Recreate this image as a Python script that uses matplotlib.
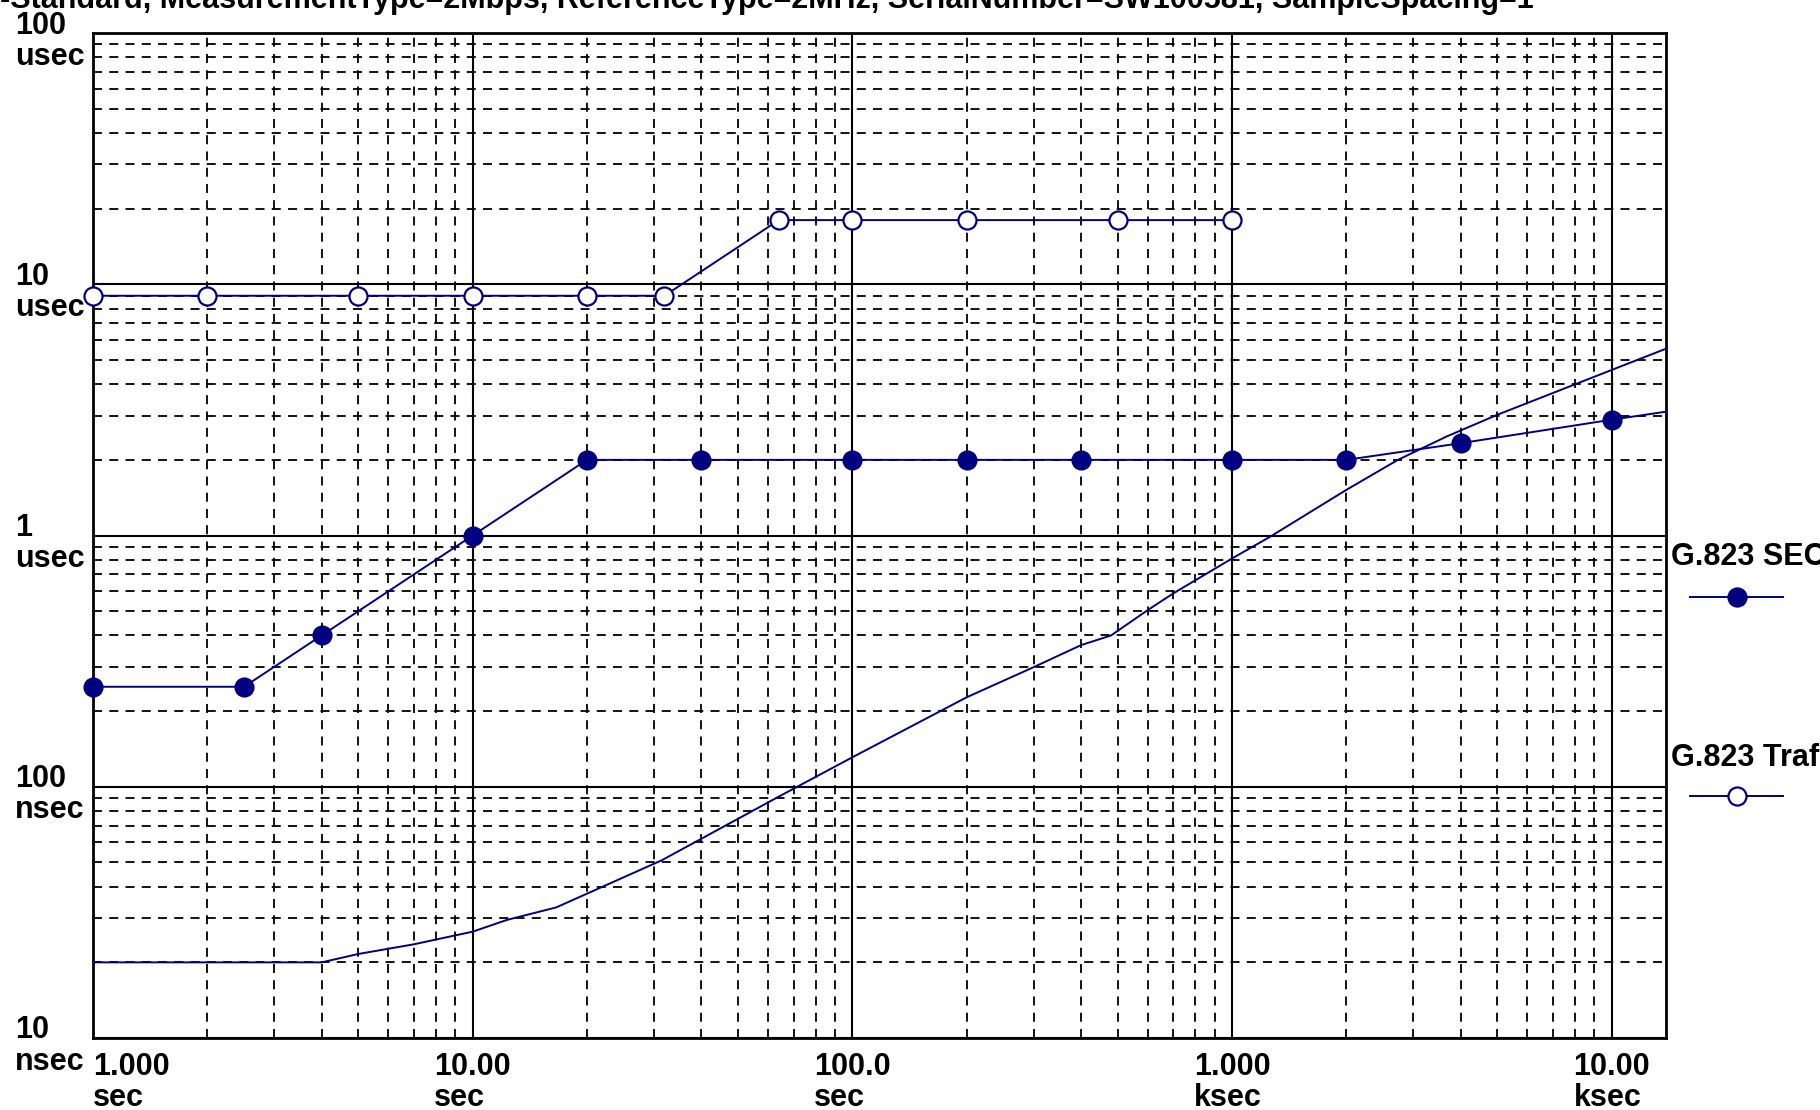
import matplotlib
matplotlib.use('Agg')
import matplotlib.pyplot as plt
from matplotlib import font_manager
from matplotlib.lines import Line2D
from matplotlib.transforms import ScaledTranslation

# ---------------- data ----------------
title_text = ("-Standard, MeasurementType=2Mbps, ReferenceType=2MHz, "
              "SerialNumber=SW100581, SampleSpacing=1")

# G.823 SEC mask (tau in s, MTIE in ns)
sec_x = [1, 2.5, 4, 10, 20, 40, 100, 200, 400, 1000, 2000, 4000, 10000, 13900]
sec_y = [250, 250, 400, 1000, 2000, 2000, 2000, 2000, 2000, 2000, 2000, 2330, 2890, 3110]

# G.823 Traffic mask
traffic_x = [1, 2, 5, 10, 20, 32, 64, 100, 200, 500, 1000]
traffic_y = [9000, 9000, 9000, 9000, 9000, 9000, 18000, 18000, 18000, 18000, 18000]

# Measured MTIE curve
meas_x = [1, 4, 5, 7, 10, 12.3, 16.6, 31.5, 63.7, 100, 200, 300, 400, 480, 600,
          700, 1000, 1263, 2000, 2735, 3675, 5000, 10000, 13900]
meas_y = [20, 20, 21.6, 23.6, 26.5, 29.5, 33.1, 51, 91, 131, 227, 299, 366, 400, 505,
          588, 810, 991, 1519, 2000, 2478, 3024, 4560, 5540]

x_ticks = [1, 10, 100, 1000, 10000]
x_tick_labels = ["1.000\nsec", "10.00\nsec", "100.0\nsec", "1.000\nksec", "10.00\nksec"]
y_ticks = [10, 100, 1000, 10000, 100000]
y_tick_labels = ["10\nnsec", "100\nnsec", "1\nusec", "10\nusec", "100\nusec"]

legend_labels = ["G.823 SEC", "G.823 Traffic"]

# ---------------- style ----------------
names = {f.name for f in font_manager.fontManager.ttflist}
if 'Liberation Sans Narrow' in names:
    FAM, FS = 'Liberation Sans Narrow', 24
elif 'Liberation Sans' in names:
    FAM, FS = 'Liberation Sans', 22
else:
    FAM, FS = 'DejaVu Sans', 19
font = dict(family=FAM, fontweight='bold', fontsize=FS)
NAVY = '#000080'

W, H = 1820, 1110
fig = plt.figure(figsize=(W / 100, H / 100), dpi=100)
L, R, T, B = 93, 1666, 33, 1038
ax = fig.add_axes([L / W, 1 - B / H, (R - L) / W, (B - T) / H])
ax.set_xscale('log')
ax.set_yscale('log')
ax.set_xlim(1, 13900)
ax.set_ylim(10, 100000)

# grid
ax.grid(which='major', color='black', linestyle='-', linewidth=1.5)
ax.grid(which='minor', color='black', linestyle=(0, (5, 4)), linewidth=1.3)
ax.set_axisbelow(True)
for s in ax.spines.values():
    s.set_linewidth(2.0)
    s.set_color('black')

# data
ax.plot(meas_x, meas_y, color=NAVY, lw=1.4, zorder=3)
ax.plot(sec_x, sec_y, color=NAVY, lw=1.4, marker='o', ms=13.5,
        markerfacecolor=NAVY, markeredgecolor=NAVY,
        markevery=list(range(len(sec_x) - 1)), clip_on=False, zorder=4)
ax.plot(traffic_x, traffic_y, color=NAVY, lw=1.4, marker='o', ms=13,
        markerfacecolor='white', markeredgecolor=NAVY, markeredgewidth=1.6,
        clip_on=False, zorder=4)

# ticks
ax.tick_params(which='both', length=0)
ax.set_xticks(x_ticks)
ax.set_xticklabels(x_tick_labels, **font)
ax.set_yticks(y_ticks)
ax.set_yticklabels(y_tick_labels, **font)
ax.tick_params(axis='x', pad=10)
ax.tick_params(axis='y', pad=(L - 15) * 0.72)
for i, t in enumerate(ax.get_xticklabels()):
    t.set_multialignment('left')
    t.set_linespacing(1.05)
    t.set_horizontalalignment('left' if i == 0 else 'center')
yoff = ScaledTranslation(0, -4 / 100, fig.dpi_scale_trans)
for t in ax.get_yticklabels():
    t.set_multialignment('left')
    t.set_linespacing(1.05)
    t.set_horizontalalignment('left')
    t.set_transform(t.get_transform() + yoff)

# title (cut at top edge as in the original)
fig.text(0, 1 - 8 / H, title_text, ha='left', va='baseline', **font)

# manual legend
def leg(ytext, yline, label, filled):
    fig.text(1671 / W, 1 - ytext / H, label, ha='left', va='center', **font)
    fig.add_artist(Line2D([1690 / W, 1783 / W], [1 - yline / H] * 2,
                          transform=fig.transFigure, color=NAVY, lw=1.4))
    fig.add_artist(Line2D([1737 / W], [1 - yline / H], transform=fig.transFigure,
                          marker='o', ms=13, color=NAVY,
                          markerfacecolor=NAVY if filled else 'white',
                          markeredgecolor=NAVY, markeredgewidth=1.6))

leg(557, 597, legend_labels[0], True)
leg(758, 796, legend_labels[1], False)

fig.savefig('out.png', dpi=100, facecolor='white')
